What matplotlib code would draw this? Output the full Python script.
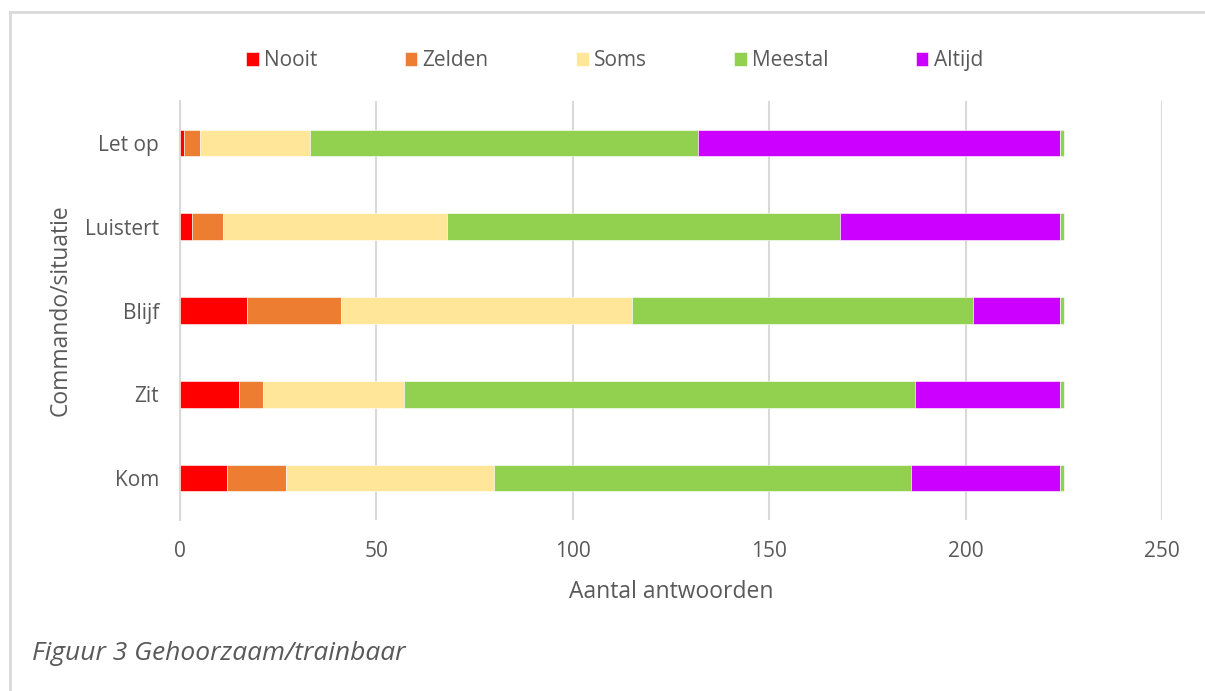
import matplotlib.pyplot as plt
from matplotlib.lines import Line2D

plt.rcParams['font.family'] = ['Open Sans', 'DejaVu Sans']

commands = ['Kom', 'Zit', 'Blijf', 'Luistert', 'Let op']
nooit = [12, 15, 17, 3, 1]
zelden = [15, 6, 24, 8, 4]
soms = [53, 36, 74, 57, 28]
meestal = [106, 130, 87, 100, 99]
altijd = [38, 37, 22, 56, 92]
overig = [1, 1, 1, 1, 1]

series = [('Nooit', nooit, '#FF0000'),
          ('Zelden', zelden, '#ED7D31'),
          ('Soms', soms, '#FFE699'),
          ('Meestal', meestal, '#92D050'),
          ('Altijd', altijd, '#CC00FF'),
          ('_overig', overig, '#92D050')]

fig = plt.figure(figsize=(12.05, 6.91), dpi=100)
ax = fig.add_axes([0.1494, 0.2475, 0.8149, 0.6063])

left = [0] * len(commands)
for name, vals, col in series:
    ax.barh(commands, vals, left=left, height=0.32, color=col, label=name,
            edgecolor='white', linewidth=0.4, zorder=3)
    left = [l + v for l, v in zip(left, vals)]

ax.set_xlim(0, 250)
ax.set_ylim(-0.5, 4.5)
ax.set_xticks(range(0, 251, 50))
ax.grid(axis='x', color='#D9D9D9', linewidth=1.5, zorder=0)
for s in ['top', 'right', 'bottom']:
    ax.spines[s].set_visible(False)
ax.spines['left'].set_color('#D9D9D9')
ax.spines['left'].set_linewidth(1.5)
ax.tick_params(length=0, labelsize=15, labelcolor='#595959', pad=15)
ax.set_xlabel('Aantal antwoorden', fontsize=16.5, color='#595959', labelpad=13)
ax.set_ylabel('Commando/situatie', fontsize=16.5, color='#595959', labelpad=9)

fig.legend(loc='center', bbox_to_anchor=(0.51, 0.912), ncol=5, frameon=False,
           fontsize=15, handlelength=0.6, handleheight=0.6, handletextpad=0.25,
           columnspacing=4.2, labelcolor='#595959')

# frame of the figure box (only top and left edges are visible)
fig.add_artist(Line2D([10 / 1205, 1], [1 - 12 / 691, 1 - 12 / 691],
                      transform=fig.transFigure, color='#D9D9D9', linewidth=2))
fig.add_artist(Line2D([10 / 1205, 10 / 1205], [0, 1 - 12 / 691],
                      transform=fig.transFigure, color='#D9D9D9', linewidth=2))

fig.text(32 / 1205, 1 - 654 / 691, 'Figuur 3 Gehoorzaam/trainbaar', fontsize=19,
         style='italic', color='#595959', va='center', ha='left')

fig.savefig('out.png', dpi=100)
